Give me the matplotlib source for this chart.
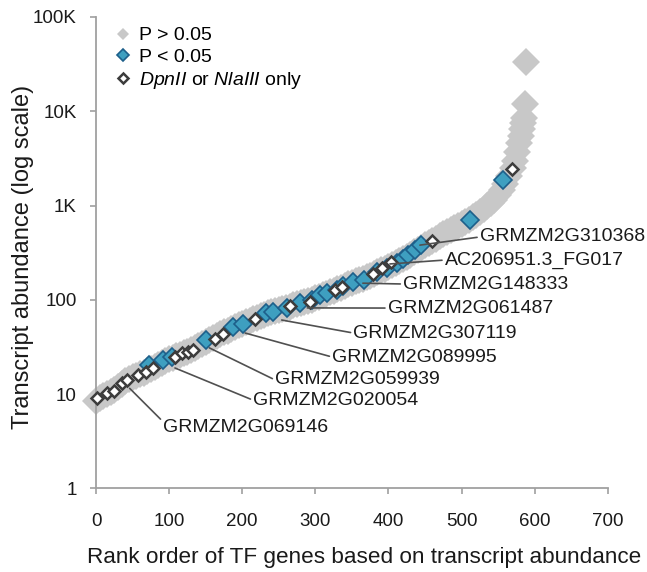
import matplotlib
matplotlib.use("Agg")
import matplotlib.pyplot as plt
from matplotlib.lines import Line2D

plt.rcParams['font.family'] = ['Liberation Sans', 'DejaVu Sans']
plt.rcParams['mathtext.fontset'] = 'custom'
plt.rcParams['mathtext.rm'] = 'Liberation Sans'
plt.rcParams['mathtext.it'] = 'Liberation Sans:italic'

# ------------------------- Data -------------------------

# all TF genes, P > 0.05 (grey band)
grey_rank = [0, 5, 10, 15, 20, 25, 30, 35, 40, 45, 50, 55, 60, 65, 70, 75, 80, 85, 90, 95,
             100, 105, 110, 115, 120, 125, 130, 135, 140, 145, 150, 155, 160, 165, 170, 175,
             180, 185, 190, 195, 200, 205, 210, 215, 220, 225, 230, 235, 240, 245, 250, 255,
             260, 265, 270, 275, 280, 285, 290, 295, 300, 305, 310, 315, 320, 325, 330, 335,
             340, 345, 350, 355, 360, 365, 370, 375, 380, 385, 390, 395, 400, 405, 410, 415,
             420, 425, 430, 435, 440, 445, 450, 455, 460, 465, 470, 475, 480, 485, 490, 495,
             500, 505, 510, 515, 520, 525, 530, 535, 540, 545, 550, 555, 560, 565, 570, 573,
             576, 579, 581, 583, 584, 585, 587, 588]
grey_val = [8.5, 9, 9.5, 10, 10.5, 11, 12, 12.8, 13.6, 14.3, 15, 15.6, 16.2, 16.8, 17.5,
            18.3, 19.2, 20.2, 21.3, 22.4, 23.4, 24.4, 25.3, 26.2, 27.2, 28.2, 29.3, 30.5,
            32, 34, 36, 37.8, 39.5, 41.2, 43, 45, 47, 49.5, 52, 54, 56, 58, 60, 62, 64.5,
            67, 69.5, 72, 74, 76, 78, 80, 82, 84.5, 87, 89.5, 92, 94.5, 97, 100, 104, 108,
            112, 116, 120, 124, 129, 134, 140, 146, 152, 157, 162, 167, 173, 180, 188, 196,
            205, 214, 224, 235, 246, 258, 270, 284, 300, 318, 337, 357, 378, 398, 420, 445,
            470, 495, 520, 550, 580, 610, 640, 675, 710, 750, 800, 850, 910, 980, 1060, 1150,
            1280, 1450, 1700, 2050, 2500, 3000, 3700, 4600, 5500, 6500, 7500, 8500, 12000,
            33000]

# P < 0.05
blue_rank = [72, 92, 104, 151, 188, 201, 233, 242, 261, 279, 296, 306, 316, 330,
             338, 352, 366, 385, 398, 411, 420, 427, 436, 445, 512, 557]
blue_val = [20.3, 23, 24.9, 37.4, 51.7, 56, 71.7, 74.6, 81, 92, 100, 112, 117, 128,
            140, 155, 162, 197, 220, 243, 270, 297, 338, 378, 703, 1860]

# DpnII or NlaIII only
open_rank = [1, 15, 24, 35, 42, 58, 69, 78, 108, 117, 126, 133, 163, 174, 217, 265,
             293, 327, 336, 379, 391, 404, 459, 569]
open_val = [9.0, 10.2, 10.9, 13, 14.1, 15.9, 17.2, 18.9, 24.9, 27, 28, 29, 38, 43, 63,
            86, 95, 126, 137, 190, 215, 253, 418, 2470]

# labelled genes: point on the curve and where the label starts
gene_names = ["GRMZM2G310368", "AC206951.3_FG017", "GRMZM2G148333", "GRMZM2G061487",
              "GRMZM2G307119", "GRMZM2G089995", "GRMZM2G059939", "GRMZM2G020054",
              "GRMZM2G069146"]
gene_pt_rank = [443, 402, 365, 289, 254, 204, 155, 108, 46]
gene_pt_val = [380, 240, 150, 82, 61, 44.4, 30.9, 18.9, 11.5]
gene_txt_rank = [525, 477, 420, 399, 352, 323, 245, 215, 92]
gene_txt_val = [464, 264, 147, 81.7, 44.4, 24.7, 14.1, 8.6, 4.47]

y_ticks = [1, 10, 100, 1000, 10000, 100000]
y_tick_labels = ["1", "10", "100", "1K", "10K", "100K"]

GREY = "#C8C8C8"
BLUE = "#3E9FC0"
BLUE_EDGE = "#1D5F8A"
DARK = "#3C3C3C"
AXIS = "#A0A0A0"
TXT = "#1a1a1a"

# ------------------------- Plot -------------------------

fig = plt.figure(figsize=(6.47, 5.72), dpi=100)
ax = fig.add_axes([0.1484, 0.1463, 0.791, 0.824])

ax.plot(grey_rank, grey_val, 'D', ms=14.5, color=GREY, mec=GREY, mew=0, clip_on=False, zorder=2)
ax.plot(blue_rank, blue_val, 'D', ms=9.5, color=BLUE, mec=BLUE_EDGE, mew=1.2, clip_on=False, zorder=3)
ax.plot(open_rank, open_val, 'D', ms=6, mfc='white', mec=DARK, mew=1.8, clip_on=False, zorder=4)

for i in range(len(gene_names)):
    rel = (0, 0.5) if i < len(gene_names) - 1 else (0, 0.8)
    ax.annotate(gene_names[i], xy=(gene_pt_rank[i], gene_pt_val[i]),
                xytext=(gene_txt_rank[i], gene_txt_val[i]),
                fontsize=14, color=TXT, ha='left', va='center',
                arrowprops=dict(arrowstyle='-', color="#505050", lw=1.2,
                                relpos=rel, shrinkA=0, shrinkB=0),
                zorder=5)

ax.set_yscale('log')
ax.set_xlim(0, 700)
ax.set_ylim(1, 100000)
ax.set_xticks(range(0, 701, 100))
ax.set_yticks(y_ticks)
ax.set_yticklabels(y_tick_labels)
ax.minorticks_off()

for s in ['top', 'right']:
    ax.spines[s].set_visible(False)
for s in ['left', 'bottom']:
    ax.spines[s].set_color(AXIS)
    ax.spines[s].set_linewidth(1.3)
ax.tick_params(axis='both', colors=AXIS, labelcolor=TXT, labelsize=13.5,
               length=4, width=1.2, direction='out')
ax.tick_params(axis='x', pad=14)
ax.tick_params(axis='y', pad=10)

ax.set_xlabel("Rank order of TF genes based on transcript abundance", fontsize=16.2, color=TXT)
ax.xaxis.set_label_coords(0.524, -0.125)
ax.set_ylabel("Transcript abundance (log scale)", fontsize=17, color=TXT)
ax.yaxis.set_label_coords(-0.121, 0.49)

handles = [
    Line2D([], [], ls='', marker='D', ms=6.5, color=GREY, mew=0),
    Line2D([], [], ls='', marker='D', ms=6.5, color=BLUE, mec=BLUE_EDGE, mew=1.2),
    Line2D([], [], ls='', marker='D', ms=5.5, mfc='white', mec=DARK, mew=1.8),
]
labels = ["P > 0.05", "P < 0.05", r"$\mathit{DpnII}$ or $\mathit{NlaIII}$ only"]
ax.legend(handles, labels, loc='upper left', bbox_to_anchor=(0.038, 0.979),
          frameon=False, fontsize=14, borderpad=0, borderaxespad=0,
          handlelength=0.8, handletextpad=0.4, labelspacing=0.2)

fig.savefig("out.png", dpi=100)
